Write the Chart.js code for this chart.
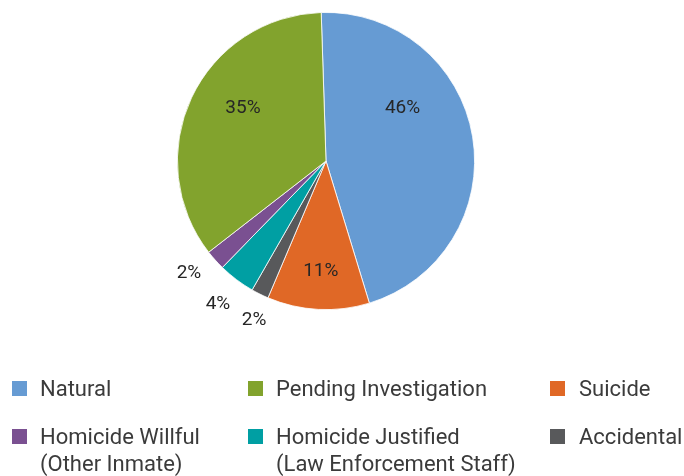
<!DOCTYPE html>
<html>
<head>
<meta charset="utf-8">
<script src="https://cdn.jsdelivr.net/npm/chart.js@4.4.1/dist/chart.umd.min.js"></script>
<style>
  html, body { margin: 0; padding: 0; background: #ffffff; }
  #wrap { position: relative; width: 684px; height: 476px; overflow: hidden; }
  #c { position: absolute; left: 0; top: 0; }
  .lg { position: absolute; font-family: Roboto, "DejaVu Sans", sans-serif; font-size: 22px; line-height: 27px; color: #3b3b3b; white-space: nowrap; }
  .sw { position: absolute; width: 15px; height: 15px; }
</style>
</head>
<body>
<div id="wrap">
  <canvas id="c" width="684" height="476"></canvas>
  <div id="legend"></div>
</div>
<script>
// ---- data (clockwise from the top) ----
const categories = ["Natural", "Suicide", "Accidental", "Homicide Justified", "Homicide Willful", "Pending Investigation"];
const shares = [45.8, 11.1, 1.9, 4.0, 2.2, 35.0];
const sliceColors = ["#669BD3", "#E06826", "#58595B", "#009FA3", "#7A5091", "#82A32D"];
// legend entries (order as shown), lines of each label
const legendOrder = ["Natural", "Pending Investigation", "Suicide", "Homicide Willful", "Homicide Justified", "Accidental"];
const legendLines = [["Natural"], ["Pending Investigation"], ["Suicide"],
                     ["Homicide Willful", "(Other Inmate)"], ["Homicide Justified", "(Law Enforcement Staff)"], ["Accidental"]];

// label placement: angle offset from slice middle (deg) and radius factor
const labelPlacement = [
  { da: -25.2, rf: 0.626 },
  { da: -0.3, rf: 0.74 },
  { da: -2.1, rf: 1.175 },
  { da: -0.1, rf: 1.21 },
  { da: 2.6, rf: 1.19 },
  { da: 7.4, rf: 0.663 }
];

const pctLabels = {
  id: 'pctLabels',
  afterDatasetsDraw(chart) {
    const ctx = chart.ctx;
    const meta = chart.getDatasetMeta(0);
    ctx.save();
    ctx.font = '19px Roboto, "DejaVu Sans", sans-serif';
    ctx.fillStyle = '#262626';
    ctx.textAlign = 'center';
    ctx.textBaseline = 'middle';
    meta.data.forEach((arc, i) => {
      const p = arc.getProps(['x', 'y', 'startAngle', 'endAngle', 'outerRadius'], true);
      const mid = (p.startAngle + p.endAngle) / 2 + labelPlacement[i].da * Math.PI / 180;
      const r = p.outerRadius * labelPlacement[i].rf;
      const x = p.x + Math.cos(mid) * r;
      const y = p.y + Math.sin(mid) * r;
      ctx.fillText(Math.round(shares[i]) + '%', x, y);
    });
    ctx.restore();
  }
};

new Chart(document.getElementById('c'), {
  type: 'pie',
  data: {
    labels: categories,
    datasets: [{
      data: shares,
      backgroundColor: sliceColors,
      borderColor: '#ffffff',
      borderWidth: 0.8
    }]
  },
  options: {
    responsive: false,
    animation: false,
    rotation: -1.85,
    layout: { padding: { left: 177, right: 209, top: 12, bottom: 166 } },
    plugins: {
      legend: { display: false },
      tooltip: { enabled: false }
    }
  },
  plugins: [pctLabels]
});

// HTML legend built from the arrays
const legendPos = [
  { sx: 12, tx: 40, top: 375 }, { sx: 248, tx: 276, top: 375 }, { sx: 550, tx: 579, top: 375 },
  { sx: 12, tx: 40, top: 423 }, { sx: 248, tx: 276, top: 423 }, { sx: 550, tx: 579, top: 423 }
];
const lg = document.getElementById('legend');
legendOrder.forEach((name, k) => {
  const idx = categories.indexOf(name);
  const pos = legendPos[k];
  const sw = document.createElement('div');
  sw.className = 'sw';
  sw.style.left = pos.sx + 'px';
  sw.style.top = (pos.top + 6) + 'px';
  sw.style.background = sliceColors[idx];
  lg.appendChild(sw);
  const t = document.createElement('div');
  t.className = 'lg';
  t.style.left = pos.tx + 'px';
  t.style.top = pos.top + 'px';
  t.innerHTML = legendLines[k].join('<br>');
  lg.appendChild(t);
});
</script>
</body>
</html>
